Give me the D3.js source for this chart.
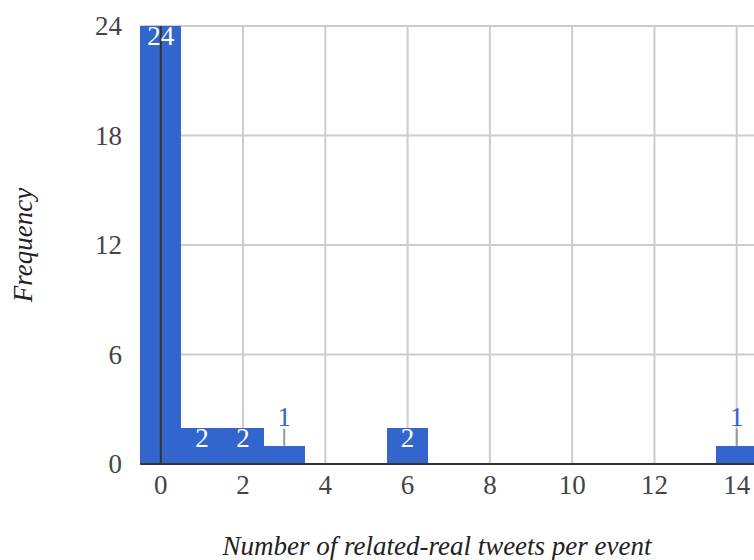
<!DOCTYPE html>
<html><head><meta charset="utf-8">
<script src="https://cdn.jsdelivr.net/npm/d3@7"></script>
<style>body{margin:0;background:#fff}svg{display:block}</style>
</head><body>
<script>
const binCenters = [0, 1, 2, 3, 6, 14];
const frequencies = [24, 2, 2, 1, 2, 1];
const xTicks = [0, 2, 4, 6, 8, 10, 12, 14];
const yTicks = [0, 6, 12, 18, 24];
const xTitle = "Number of related-real tweets per event";
const yTitle = "Frequency";

const W = 754, H = 560;
const svg = d3.select("body").append("svg").attr("width", W).attr("height", H);
const font = "'Liberation Serif', 'Times New Roman', serif";
const FS = 27;

const x = d3.scaleLinear().domain([-0.5, 14.5]).range([140.2, 757.3]);
const y = d3.scaleLinear().domain([0, 24]).range([464, 26]);
const left = x(-0.5), right = W;

// gridlines
svg.append("g").selectAll("line").data(yTicks.filter(d => d > 0)).join("line")
  .attr("x1", left).attr("x2", right).attr("y1", d => y(d)).attr("y2", d => y(d))
  .attr("stroke", "#cccccc").attr("stroke-width", 2);
svg.append("g").selectAll("line").data(xTicks.filter(d => d !== 0)).join("line")
  .attr("x1", d => x(d)).attr("x2", d => x(d)).attr("y1", y(24)).attr("y2", y(0))
  .attr("stroke", "#cccccc").attr("stroke-width", 2);

// bars
const data = binCenters.map((c, i) => ({c, v: frequencies[i]}));
svg.append("g").attr("shape-rendering", "crispEdges").selectAll("rect").data(data).join("rect")
  .attr("x", d => Math.round(x(d.c - 0.5))).attr("width", d => Math.round(x(d.c + 0.5)) - Math.round(x(d.c - 0.5)))
  .attr("y", d => y(d.v)).attr("height", d => y(0) - y(d.v))
  .attr("fill", "#3366cc");

// zero lines
svg.append("line").attr("x1", left).attr("x2", right).attr("y1", y(0)).attr("y2", y(0))
  .attr("stroke", "#333").attr("stroke-width", 2);
svg.append("line").attr("x1", x(0)).attr("x2", x(0)).attr("y1", y(24)).attr("y2", y(0))
  .attr("stroke", "#333").attr("stroke-width", 2);

// bar labels
const inside = data.filter(d => d.v >= 2);
const outside = data.filter(d => d.v < 2);
svg.append("g").selectAll("text").data(inside).join("text")
  .attr("x", d => x(d.c)).attr("y", d => y(d.v) + 19)
  .attr("text-anchor", "middle").attr("font-family", font).attr("font-size", FS)
  .attr("fill", "#fff").text(d => d.v);
svg.append("g").selectAll("line").data(outside).join("line")
  .attr("x1", d => x(d.c)).attr("x2", d => x(d.c))
  .attr("y1", d => y(d.v)).attr("y2", d => y(d.v) - 17)
  .attr("stroke", "#999").attr("stroke-width", 2);
svg.append("g").selectAll("text").data(outside).join("text")
  .attr("x", d => x(d.c)).attr("y", d => y(d.v) - 20)
  .attr("text-anchor", "middle").attr("font-family", font).attr("font-size", FS)
  .attr("fill", "#3366cc").text(d => d.v);

// axes tick labels
svg.append("g").selectAll("text").data(yTicks).join("text")
  .attr("x", 122).attr("y", d => y(d)).attr("dy", "0.35em")
  .attr("text-anchor", "end").attr("font-family", font).attr("font-size", FS)
  .attr("fill", "#444").text(d => d);
svg.append("g").selectAll("text").data(xTicks).join("text")
  .attr("x", d => x(d)).attr("y", 494)
  .attr("text-anchor", "middle").attr("font-family", font).attr("font-size", FS)
  .attr("fill", "#444").text(d => d);

// titles
svg.append("text").attr("x", 437).attr("y", 555).attr("text-anchor", "middle")
  .attr("font-family", font).attr("font-size", FS).attr("font-style", "italic")
  .attr("fill", "#222").text(xTitle);
svg.append("text").attr("transform", "translate(32,245) rotate(-90)").attr("text-anchor", "middle")
  .attr("font-family", font).attr("font-size", FS).attr("font-style", "italic")
  .attr("fill", "#222").text(yTitle);
</script>
</body></html>
